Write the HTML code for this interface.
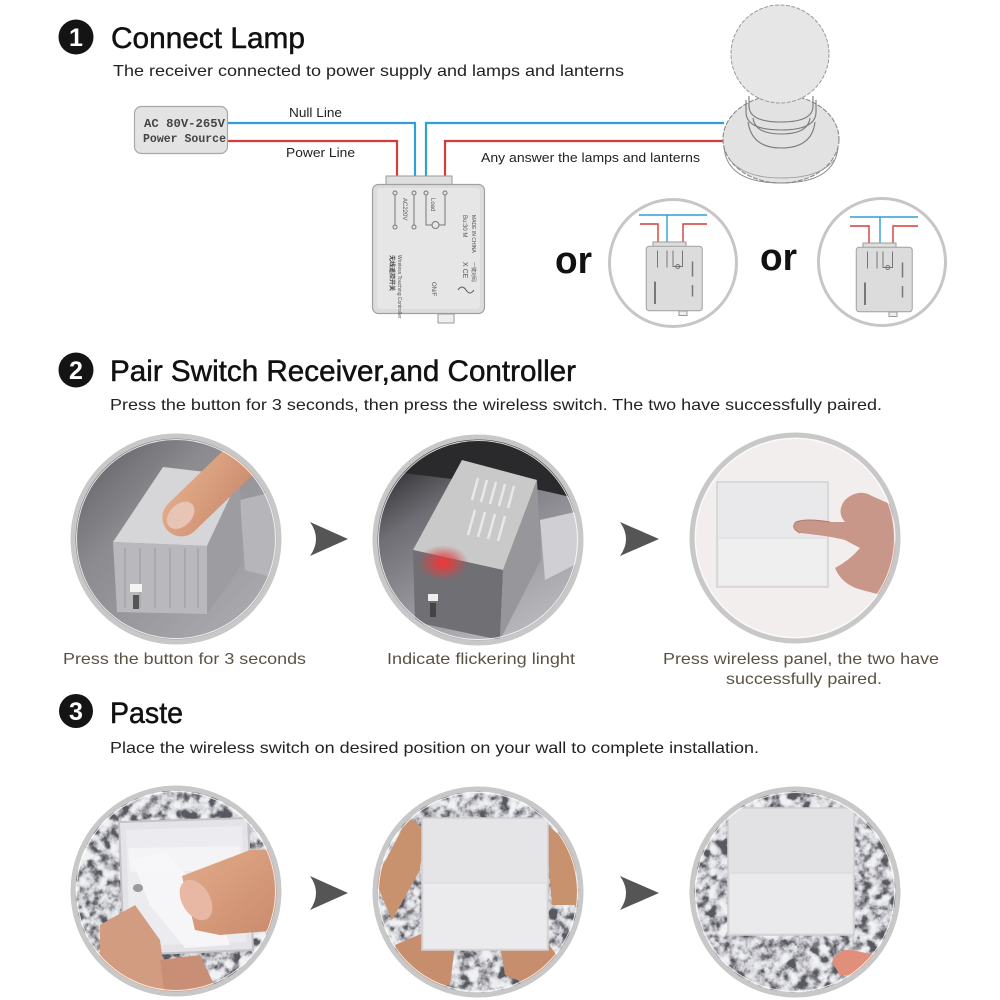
<!DOCTYPE html>
<html>
<head>
<meta charset="utf-8">
<style>
  html,body{margin:0;padding:0;background:#fff;}
  svg{display:block;}
  text{font-family:"Liberation Sans","Noto Sans CJK SC",sans-serif;}
  .mono{font-family:"Liberation Mono",monospace;}
</style>
</head>
<body>
<svg width="1000" height="1000" viewBox="0 0 1000 1000" xmlns="http://www.w3.org/2000/svg">
<defs>
  <clipPath id="c1"><circle cx="176" cy="539" r="101"/></clipPath>
  <clipPath id="c2"><circle cx="478" cy="540" r="101"/></clipPath>
  <clipPath id="c3"><circle cx="795" cy="538" r="101"/></clipPath>
  <clipPath id="c4"><circle cx="176" cy="891" r="101"/></clipPath>
  <clipPath id="c5"><circle cx="478" cy="892" r="101"/></clipPath>
  <clipPath id="c6"><circle cx="795" cy="892" r="101"/></clipPath>
  <linearGradient id="bg1" x1="0" y1="0" x2="1" y2="1">
    <stop offset="0" stop-color="#56565a"/>
    <stop offset="0.35" stop-color="#8a8a8f"/>
    <stop offset="1" stop-color="#b3b3b7"/>
  </linearGradient>
  <linearGradient id="bg2" x1="0.2" y1="0" x2="0.8" y2="1">
    <stop offset="0" stop-color="#1f1f22"/>
    <stop offset="0.3" stop-color="#6e6e74"/>
    <stop offset="0.7" stop-color="#a2a2a8"/>
    <stop offset="1" stop-color="#c0c0c4"/>
  </linearGradient>
  <radialGradient id="red" cx="0.5" cy="0.5" r="0.5">
    <stop offset="0" stop-color="#ff3030" stop-opacity="0.95"/>
    <stop offset="0.5" stop-color="#e04040" stop-opacity="0.6"/>
    <stop offset="1" stop-color="#c05050" stop-opacity="0"/>
  </radialGradient>
  <linearGradient id="skin" x1="0" y1="0" x2="1" y2="1">
    <stop offset="0" stop-color="#e2ab8a"/>
    <stop offset="1" stop-color="#c98a6c"/>
  </linearGradient>
  <filter id="gr" x="0" y="0" width="1" height="1">
    <feTurbulence type="fractalNoise" baseFrequency="0.1" numOctaves="3" seed="7" result="n"/>
    <feColorMatrix in="n" type="matrix" values="0.33 0.33 0.33 0 0  0.33 0.33 0.33 0 0  0.33 0.33 0.33 0 0  0 0 0 0 1" result="g"/>
    <feComponentTransfer in="g" result="s">
      <feFuncR type="linear" slope="3.6" intercept="-1.3"/>
      <feFuncG type="linear" slope="3.6" intercept="-1.3"/>
      <feFuncB type="linear" slope="3.6" intercept="-1.3"/>
    </feComponentTransfer>
    <feComponentTransfer in="s">
      <feFuncR type="discrete" tableValues="0.1 0.18 0.32 0.5 0.66 0.76 0.83 0.88"/>
      <feFuncG type="discrete" tableValues="0.1 0.18 0.32 0.5 0.67 0.77 0.84 0.89"/>
      <feFuncB type="discrete" tableValues="0.12 0.2 0.35 0.53 0.7 0.79 0.86 0.9"/>
      <feFuncA type="discrete" tableValues="1"/>
    </feComponentTransfer>
  </filter>
</defs>

<rect width="1000" height="1000" fill="#fff"/>

<!-- ===== SECTION 1 ===== -->
<circle cx="76" cy="37" r="17.5" fill="#141414"/>
<text x="76" y="46" font-size="25" font-weight="bold" fill="#fff" text-anchor="middle">1</text>
<text x="111" y="48" font-size="29.5" fill="#111" stroke="#111" stroke-width="0.5" textLength="194" lengthAdjust="spacingAndGlyphs">Connect Lamp</text>
<text x="113" y="76" font-size="16" fill="#222" textLength="511" lengthAdjust="spacingAndGlyphs">The receiver connected to power supply and lamps and lanterns</text>

<!-- power source -->
<rect x="134.5" y="106.5" width="93" height="47" rx="7" fill="#e3e3e3" stroke="#a8a8a8" stroke-width="1.2"/>
<text class="mono" x="144" y="127" font-size="11.5" fill="#444" font-weight="bold" textLength="81" lengthAdjust="spacingAndGlyphs">AC 80V-265V</text>
<text class="mono" x="143" y="142" font-size="11.5" fill="#444" font-weight="bold" textLength="83" lengthAdjust="spacingAndGlyphs">Power Source</text>

<!-- wires -->
<path d="M228,123 H415 V177" fill="none" stroke="#2f9fd6" stroke-width="2.2"/>
<path d="M228,141 H397 V177" fill="none" stroke="#d63a3a" stroke-width="2.2"/>
<path d="M426,177 V123 H724" fill="none" stroke="#2f9fd6" stroke-width="2.2"/>
<path d="M445,177 V141 H724" fill="none" stroke="#d63a3a" stroke-width="2.2"/>

<text x="289" y="117" font-size="13" fill="#222" textLength="53" lengthAdjust="spacingAndGlyphs">Null Line</text>
<text x="286" y="157" font-size="13" fill="#222" textLength="69" lengthAdjust="spacingAndGlyphs">Power Line</text>
<text x="481" y="162" font-size="13" fill="#222" textLength="219" lengthAdjust="spacingAndGlyphs">Any answer the lamps and lanterns</text>

<!-- main device -->
<g>
  <rect x="386" y="176" width="66" height="9" fill="#dedede" stroke="#9a9a9a" stroke-width="1"/>
  <rect x="372.5" y="184.5" width="112" height="129" rx="6" fill="#dcdcdc" stroke="#a0a0a0" stroke-width="1.2"/>
  <rect x="377" y="188" width="103" height="121" rx="4" fill="#e6e6e6"/>
  <rect x="438" y="314" width="16" height="9" fill="#eee" stroke="#999" stroke-width="1"/>
  <g stroke="#777" stroke-width="1" fill="#e6e6e6">
    <line x1="395" y1="193" x2="395" y2="227"/>
    <line x1="414" y1="193" x2="414" y2="227"/>
    <path d="M426,193 V225 H445 V193" fill="none"/>
    <circle cx="395" cy="193" r="2"/><circle cx="395" cy="227" r="2"/>
    <circle cx="414" cy="193" r="2"/><circle cx="414" cy="227" r="2"/>
    <circle cx="426" cy="193" r="2"/><circle cx="445" cy="193" r="2"/>
    <circle cx="435.5" cy="225" r="3.5"/>
  </g>
  <text transform="translate(403,198) rotate(90)" font-size="6" fill="#555">AC220V</text>
  <text transform="translate(431,198) rotate(90)" font-size="6" fill="#555">Load</text>
  <text transform="translate(390,255) rotate(90)" font-size="6" fill="#444" font-weight="bold">无线遥控开关</text>
  <text transform="translate(398,255) rotate(90)" font-size="5" fill="#555">Wireless Touching Controller</text>
  <text transform="translate(463,215) rotate(90)" font-size="6" fill="#555">Bu:30 M</text>
  <text transform="translate(472,215) rotate(90)" font-size="5" fill="#555">MADE IN CHINA</text>
  <text transform="translate(463,262) rotate(90)" font-size="7" fill="#555">X CE</text>
  <text transform="translate(472,262) rotate(90)" font-size="5" fill="#555">一键对码</text>
  <text transform="translate(432,282) rotate(90)" font-size="6" fill="#555">ON/F</text>
  <path d="M458,290 q4,-6 8,0 q4,6 8,0" fill="none" stroke="#555" stroke-width="1"/>
</g>

<!-- lamp -->
<ellipse cx="781" cy="139" rx="58" ry="44" fill="#e2e2e2" stroke="#8a8a8a" stroke-width="1.1" stroke-dasharray="5 1.5"/>
<path d="M724,147 Q727,183 781,183 Q835,183 838,147" fill="none" stroke="#8a8a8a" stroke-width="1"/>
<path d="M730,160 Q745,178 781,178 Q820,178 834,160" fill="none" stroke="#999" stroke-width="0.8"/>
<g fill="none" stroke="#7a7a7a" stroke-width="1.1">
  <path d="M749,96 V106 Q749,122 781,122 Q813,122 813,106 V96"/>
  <path d="M746,100 V112 Q746,130 781,130 Q816,130 816,112 V100"/>
  <path d="M753,118 Q755,134 781,134 Q808,134 810,118"/>
  <path d="M748,122 Q752,148 781,148 Q812,148 815,122"/>
</g>
<circle cx="780" cy="54" r="49" fill="#e6e6e6" stroke="#9a9a9a" stroke-width="1" stroke-dasharray="4 1.5"/>

<!-- or circles -->
<text x="555" y="273" font-size="38" font-weight="bold" fill="#111" textLength="37" lengthAdjust="spacingAndGlyphs">or</text>
<text x="760" y="270" font-size="38" font-weight="bold" fill="#111" textLength="37" lengthAdjust="spacingAndGlyphs">or</text>

<circle cx="673" cy="263" r="63.5" fill="#fff" stroke="#c6c6c6" stroke-width="3"/>
<path d="M639,215 H707 M667,215 V243" fill="none" stroke="#2f9fd6" stroke-width="1.4"/>
<path d="M640,224 H658 V243 M707,224 H683 V243" fill="none" stroke="#d63a3a" stroke-width="1.4"/>
<g transform="translate(460,154) scale(0.5)">
  <rect x="386" y="176" width="66" height="9" fill="#dedede" stroke="#9a9a9a" stroke-width="2"/>
  <rect x="372.5" y="184.5" width="112" height="129" rx="6" fill="#dcdcdc" stroke="#a0a0a0" stroke-width="2"/>
  <rect x="438" y="314" width="16" height="9" fill="#eee" stroke="#999" stroke-width="2"/>
  <g stroke="#777" stroke-width="2" fill="none">
    <line x1="395" y1="193" x2="395" y2="227"/><line x1="414" y1="193" x2="414" y2="227"/>
    <path d="M426,193 V225 H445 V193"/><circle cx="435.5" cy="225" r="4"/>
    <line x1="390" y1="255" x2="390" y2="300" stroke-width="4"/>
    <line x1="465" y1="215" x2="465" y2="245" stroke-width="3"/>
    <line x1="465" y1="262" x2="465" y2="285" stroke-width="3"/>
  </g>
</g>

<circle cx="882" cy="262" r="63.5" fill="#fff" stroke="#c6c6c6" stroke-width="3"/>
<path d="M850,217 H918 M880,217 V244" fill="none" stroke="#2f9fd6" stroke-width="1.4"/>
<path d="M850,226 H869 V244 M918,226 H893 V244" fill="none" stroke="#d63a3a" stroke-width="1.4"/>
<g transform="translate(670,155) scale(0.5)">
  <rect x="386" y="176" width="66" height="9" fill="#dedede" stroke="#9a9a9a" stroke-width="2"/>
  <rect x="372.5" y="184.5" width="112" height="129" rx="6" fill="#dcdcdc" stroke="#a0a0a0" stroke-width="2"/>
  <rect x="438" y="314" width="16" height="9" fill="#eee" stroke="#999" stroke-width="2"/>
  <g stroke="#777" stroke-width="2" fill="none">
    <line x1="395" y1="193" x2="395" y2="227"/><line x1="414" y1="193" x2="414" y2="227"/>
    <path d="M426,193 V225 H445 V193"/><circle cx="435.5" cy="225" r="4"/>
    <line x1="390" y1="255" x2="390" y2="300" stroke-width="4"/>
    <line x1="465" y1="215" x2="465" y2="245" stroke-width="3"/>
    <line x1="465" y1="262" x2="465" y2="285" stroke-width="3"/>
  </g>
</g>

<!-- ===== SECTION 2 ===== -->
<circle cx="76" cy="370" r="17.5" fill="#141414"/>
<text x="76" y="379" font-size="25" font-weight="bold" fill="#fff" text-anchor="middle">2</text>
<text x="110" y="381" font-size="29.5" fill="#111" stroke="#111" stroke-width="0.5" textLength="466" lengthAdjust="spacingAndGlyphs">Pair Switch Receiver,and Controller</text>
<text x="110" y="410" font-size="16" fill="#222" textLength="772" lengthAdjust="spacingAndGlyphs">Press the button for 3 seconds, then press the wireless switch. The two have successfully paired.</text>

<!-- photo 1 -->
<g clip-path="url(#c1)">
  <rect x="70" y="433" width="212" height="212" fill="url(#bg1)"/>
  <polygon points="200,433 282,433 282,500 250,470" fill="#4a4a4e"/>
  <polygon points="240,500 282,490 282,580 245,570" fill="#b6b6ba"/>
  <polygon points="113,542 163,467 240,476 207,546" fill="#d6d6d8"/>
  <polygon points="113,542 207,546 207,614 117,612" fill="#b9b9bd"/>
  <g stroke="#a6a6aa" stroke-width="1.5">
    <line x1="125" y1="548" x2="125" y2="608"/><line x1="140" y1="548" x2="140" y2="608"/>
    <line x1="155" y1="548" x2="155" y2="608"/><line x1="170" y1="548" x2="170" y2="608"/>
    <line x1="185" y1="548" x2="185" y2="608"/><line x1="198" y1="548" x2="198" y2="608"/>
  </g>
  <polygon points="207,546 240,476 242,565 207,614" fill="#9c9ca1"/>
  <rect x="130" y="584" width="12" height="8" fill="#f4f4f4"/>
  <rect x="133" y="595" width="6" height="14" fill="#555"/>
  <g transform="translate(218,482) rotate(-44)">
    <rect x="-70" y="-19" width="150" height="38" rx="19" fill="url(#skin)"/>
    <ellipse cx="-50" cy="-2" rx="16" ry="11" fill="#e8c4b4"/>
  </g>
</g>
<circle cx="176" cy="539" r="103" fill="none" stroke="#c8c8c8" stroke-width="5"/>
<circle cx="176" cy="539" r="99.5" fill="none" stroke="#fff" stroke-width="1" opacity="0.8"/>

<path d="M310,522 L348,539 L310,556 Q322,539 310,522 Z" fill="#555"/>

<!-- photo 2 -->
<g clip-path="url(#c2)">
  <rect x="372" y="434" width="212" height="212" fill="url(#bg2)"/>
  <polygon points="380,470 440,440 584,440 584,500 540,490" fill="#2a2a2c"/>
  <polygon points="540,520 584,510 584,560 545,580" fill="#d0d0d4"/>
  <polygon points="413,550 462,460 537,480 503,570" fill="#c9c9c9"/>
  <g stroke="#e8e8e8" stroke-width="2.5">
    <line x1="478" y1="478" x2="472" y2="500"/><line x1="487" y1="480" x2="481" y2="502"/>
    <line x1="496" y1="482" x2="490" y2="504"/><line x1="505" y1="484" x2="499" y2="506"/>
    <line x1="514" y1="486" x2="508" y2="508"/>
    <line x1="475" y1="510" x2="468" y2="535"/><line x1="485" y1="512" x2="478" y2="537"/>
    <line x1="495" y1="514" x2="488" y2="539"/><line x1="505" y1="516" x2="498" y2="541"/>
  </g>
  <polygon points="413,550 503,570 500,640 415,622" fill="#6f6f74"/>
  <polygon points="503,570 537,480 541,560 500,640" fill="#96969b"/>
  <ellipse cx="443" cy="563" rx="26" ry="18" fill="url(#red)"/>
  <rect x="428" y="594" width="10" height="7" fill="#eee"/>
  <rect x="430" y="603" width="6" height="14" fill="#444"/>
</g>
<circle cx="478" cy="540" r="103" fill="none" stroke="#c8c8c8" stroke-width="5"/>
<circle cx="478" cy="540" r="99.5" fill="none" stroke="#fff" stroke-width="1" opacity="0.8"/>

<path d="M620,522 L659,539 L620,556 Q632,539 620,522 Z" fill="#555"/>

<!-- photo 3 -->
<g clip-path="url(#c3)">
  <rect x="690" y="434" width="212" height="212" fill="#f3eeee"/>
  <rect x="717" y="482" width="111" height="105" fill="#e9e9eb" stroke="#d2d2d4" stroke-width="1.5"/>
  <rect x="719" y="538" width="107" height="47" fill="#efeff0"/>
  <line x1="719" y1="538" x2="826" y2="538" stroke="#dadada" stroke-width="1"/>
  <path d="M845,500 Q858,488 872,496 L892,505 L900,600 L862,590 Q842,585 835,568 Q850,560 860,548 L845,540 Q830,536 800,533 Q790,528 796,522 Q806,518 830,522 L845,522 Q836,512 845,500 Z" fill="#c9978a"/>
  <path d="M800,533 Q790,528 796,522 Q806,518 830,522" fill="none" stroke="#b07c70" stroke-width="1"/>
</g>
<circle cx="795" cy="538" r="103" fill="none" stroke="#c8c8c8" stroke-width="5"/>
<circle cx="795" cy="538" r="99.5" fill="none" stroke="#fff" stroke-width="1" opacity="0.8"/>

<text x="63" y="664" font-size="16" fill="#5a5344" textLength="243" lengthAdjust="spacingAndGlyphs">Press the button for 3 seconds</text>
<text x="387" y="664" font-size="16" fill="#5a5344" textLength="188" lengthAdjust="spacingAndGlyphs">Indicate flickering linght</text>
<text x="663" y="664" font-size="16" fill="#5a5344" textLength="276" lengthAdjust="spacingAndGlyphs">Press wireless panel, the two have</text>
<text x="726" y="684" font-size="16" fill="#5a5344" textLength="156" lengthAdjust="spacingAndGlyphs">successfully paired.</text>

<!-- ===== SECTION 3 ===== -->
<circle cx="76" cy="711" r="17" fill="#141414"/>
<text x="76" y="720" font-size="25" font-weight="bold" fill="#fff" text-anchor="middle">3</text>
<text x="110" y="723" font-size="29.5" fill="#111" stroke="#111" stroke-width="0.5" textLength="73" lengthAdjust="spacingAndGlyphs">Paste</text>
<text x="110" y="753" font-size="16" fill="#222" textLength="649" lengthAdjust="spacingAndGlyphs">Place the wireless switch on desired position on your wall to complete installation.</text>

<!-- photo 4 -->
<g clip-path="url(#c4)">
  <rect x="70" y="785" width="212" height="212" filter="url(#gr)"/>
  <polygon points="119,822 248,818 253,950 124,955" fill="#e4e4e8" stroke="#c4c4c8" stroke-width="2"/>
  <polygon points="126,830 242,826 246,942 130,946" fill="#ececf0"/>
  <polygon points="128,848 240,846 243,870 130,872" fill="#f4f4f6"/>
  <polygon points="132,860 165,852 215,905 230,945 185,948 150,905" fill="#f7f7f9" opacity="0.9"/>
  <ellipse cx="138" cy="888" rx="5" ry="4" fill="#9a9a9a"/>
  <polygon points="182,876 250,850 282,850 282,930 220,935 195,930" fill="url(#skin)"/>
  <ellipse cx="196" cy="900" rx="14" ry="22" fill="#e8b8a4" transform="rotate(-30 196 900)"/>
  <polygon points="100,925 135,905 160,940 168,997 100,997" fill="#d19c80"/>
  <polygon points="160,960 200,955 220,997 165,997" fill="#c98f76"/>
</g>
<circle cx="176" cy="891" r="103" fill="none" stroke="#c8c8c8" stroke-width="5"/>
<circle cx="176" cy="891" r="99.5" fill="none" stroke="#fff" stroke-width="1" opacity="0.8"/>

<path d="M310,876 L348,893 L310,910 Q322,893 310,876 Z" fill="#555"/>

<!-- photo 5 -->
<g clip-path="url(#c5)">
  <rect x="372" y="786" width="212" height="212" filter="url(#gr)"/>
  <polygon points="375,880 408,818 424,828 420,870 392,920" fill="#c9926f"/>
  <polygon points="395,945 430,930 455,945 450,985 415,990" fill="#c68e6c"/>
  <polygon points="500,945 540,932 560,960 530,985 505,975" fill="#c68e6c"/>
  <polygon points="545,822 575,850 578,905 552,905" fill="#c9926f"/>
  <rect x="422" y="818" width="126" height="132" fill="#e5e5e8" stroke="#d0d0d2" stroke-width="1.5"/>
  <line x1="424" y1="883" x2="546" y2="883" stroke="#dcdcde" stroke-width="1"/>
  <rect x="424" y="884" width="122" height="64" fill="#ebebed"/>
</g>
<circle cx="478" cy="892" r="103" fill="none" stroke="#c8c8c8" stroke-width="5"/>
<circle cx="478" cy="892" r="99.5" fill="none" stroke="#fff" stroke-width="1" opacity="0.8"/>

<path d="M620,876 L659,893 L620,910 Q632,893 620,876 Z" fill="#555"/>

<!-- photo 6 -->
<g clip-path="url(#c6)">
  <rect x="690" y="786" width="212" height="212" filter="url(#gr)"/>
  <rect x="728" y="808" width="126" height="127" fill="#e2e2e5" stroke="#cfcfd2" stroke-width="1.5"/>
  <rect x="730" y="873" width="122" height="60" fill="#eaeaec"/>
  <line x1="730" y1="873" x2="852" y2="873" stroke="#d8d8da" stroke-width="1"/>
  <path d="M832,962 Q838,948 852,950 L875,955 Q880,968 868,975 L840,975 Z" fill="#e0907a"/>
</g>
<circle cx="795" cy="892" r="103" fill="none" stroke="#c8c8c8" stroke-width="5"/>
<circle cx="795" cy="892" r="99.5" fill="none" stroke="#fff" stroke-width="1" opacity="0.8"/>
</svg>
</body>
</html>
